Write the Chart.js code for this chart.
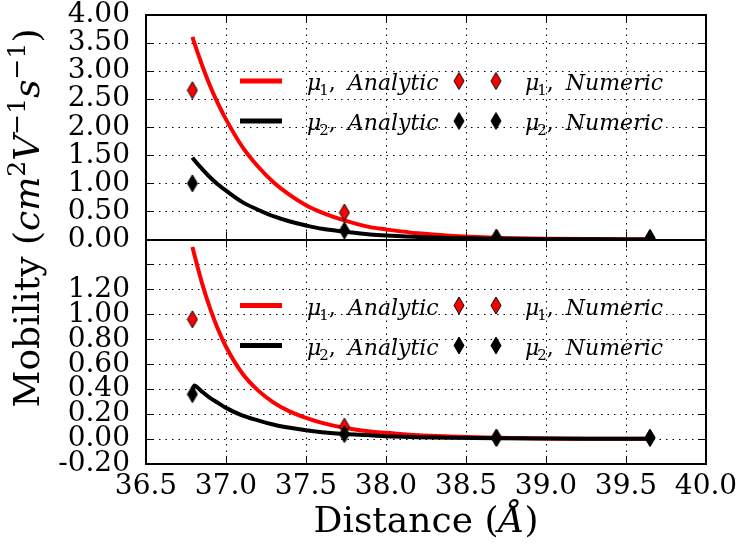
<!DOCTYPE html>
<html lang="en">
<head>
  <meta charset="UTF-8" />
  <title>Mobility vs Distance</title>
  <style>
    html, body { margin: 0; padding: 0; background: #fff; }
    #wrap { width: 739px; height: 545px; }
  </style>
</head>
<body>
  <div id="wrap"><canvas id="chart" width="739" height="545"></canvas></div>

  <script src="https://cdn.jsdelivr.net/npm/chart.js"></script>
  <script>
    // analytic curves, sampled along distance (Angstrom)
    const distance = [36.79, 36.80, 36.85, 36.90, 36.95, 37.00, 37.10, 37.20, 37.30, 37.40, 37.50,
                      37.60, 37.74, 37.90, 38.00, 38.20, 38.40, 38.69, 39.00, 39.30, 39.65];
    const mu1AnalyticTop = [3.61, 3.52, 3.11, 2.74, 2.42, 2.14, 1.66, 1.30, 1.01, 0.79, 0.61,
                            0.48, 0.34, 0.22, 0.18, 0.11, 0.065, 0.031, 0.014, 0.007, 0.003];
    const mu2AnalyticTop = [1.46, 1.42, 1.26, 1.11, 0.98, 0.87, 0.67, 0.53, 0.41, 0.32, 0.25,
                            0.19, 0.14, 0.09, 0.07, 0.045, 0.026, 0.013, 0.006, 0.003, 0.001];
    const mu1AnalyticBot = [1.54, 1.49, 1.25, 1.05, 0.88, 0.74, 0.53, 0.39, 0.29, 0.22, 0.17,
                            0.13, 0.09, 0.06, 0.05, 0.03, 0.02, 0.01, 0.005, 0.003, 0.002];
    const mu2AnalyticBot = [0.36, 0.43, 0.38, 0.33, 0.29, 0.25, 0.19, 0.15, 0.115, 0.09, 0.07,
                            0.055, 0.04, 0.03, 0.022, 0.015, 0.01, 0.006, 0.004, 0.003, 0.002];

    // numeric results
    const numDistance = [36.79, 37.74, 38.69, 39.65];
    const mu1NumericTop = [2.66, 0.48, 0.03, 0.02];
    const mu2NumericTop = [1.00, 0.16, 0.03, 0.03];
    const mu1NumericBot = [0.96, 0.10, 0.01, 0.01];
    const mu2NumericBot = [0.36, 0.04, 0.01, 0.01];

    const xTicks = [36.5, 37.0, 37.5, 38.0, 38.5, 39.0, 39.5, 40.0];

    const SERIF = '"DejaVu Serif", serif';
    const RED = '#ff0000';
    const BLACK = '#000000';

    const pts = (xs, ys) => xs.map((x, i) => ({ x: x, y: ys[i] }));

    // thin diamond marker like matplotlib's 'd'
    function thinDiamond(fill) {
      const c = document.createElement('canvas');
      c.width = 12; c.height = 19;
      const g = c.getContext('2d');
      g.beginPath();
      g.moveTo(6, 1); g.lineTo(11, 9.5); g.lineTo(6, 18); g.lineTo(1, 9.5); g.closePath();
      g.fillStyle = fill; g.fill();
      g.lineWidth = 1; g.strokeStyle = BLACK; g.stroke();
      return c;
    }
    const redMark = thinDiamond(RED);
    const blackMark = thinDiamond(BLACK);

    function lineSet(label, data, color, axis, order) {
      return { label, data, yAxisID: axis, borderColor: color, backgroundColor: color,
               borderWidth: 4, pointRadius: 0, showLine: true, order,
               cubicInterpolationMode: 'monotone' };
    }
    function markSet(label, data, img, axis, order) {
      return { label, data, yAxisID: axis, showLine: false, pointStyle: img,
               pointRadius: 6, order };
    }

    function runs(ctx, x, y, list) {
      for (const r of list) {
        ctx.font = (r.it ? 'italic ' : '') + r.size + 'px ' + SERIF;
        const px = r.at !== undefined ? x + r.at : x;
        ctx.fillText(r.t, px, y + (r.dy || 0));
        x = px + ctx.measureText(r.t).width;
      }
      return x;
    }
    function runsWidth(ctx, list) {
      let w = 0;
      for (const r of list) {
        ctx.font = (r.it ? 'italic ' : '') + r.size + 'px ' + SERIF;
        w += ctx.measureText(r.t).width;
      }
      return w;
    }

    function legendLabel(ctx, x, y, sub, word) {
      runs(ctx, x, y, [
        { t: 'μ', it: true, size: 22, at: 0 },
        { t: sub, size: 15, dy: 5, at: -2 },
        { t: ',', size: 22, at: 0 },
        { t: word, it: true, size: 22, at: 12 }
      ]);
    }

    function drawLegend(ctx, left, top) {
      const rows = [
        { y: top + 66, color: RED, mark: redMark, sub: '1' },
        { y: top + 106, color: BLACK, mark: blackMark, sub: '2' }
      ];
      for (const r of rows) {
        ctx.fillStyle = r.color;
        ctx.fillRect(left + 94, r.y - 2.5, 42, 5);
        ctx.fillStyle = BLACK;
        ctx.textBaseline = 'alphabetic';
        ctx.textAlign = 'left';
        legendLabel(ctx, left + 161, r.y + 9, r.sub, 'Analytic');
        ctx.drawImage(r.mark, left + 313 - 6, r.y - 9.5);
        ctx.drawImage(r.mark, left + 350 - 6, r.y - 9.5);
        legendLabel(ctx, left + 379, r.y + 9, r.sub, 'Numeric');
      }
    }

    function dotted(ctx, x1, y1, x2, y2) {
      ctx.save();
      ctx.setLineDash([1.5, 5]);
      ctx.lineWidth = 1;
      ctx.strokeStyle = BLACK;
      ctx.beginPath(); ctx.moveTo(x1, y1); ctx.lineTo(x2, y2); ctx.stroke();
      ctx.restore();
    }

    const noPad = s => { s.paddingTop = 0; s.paddingBottom = 0; s.paddingLeft = 0; s.paddingRight = 0; };

    const panelArt = {
      id: 'panelArt',
      beforeDatasetsDraw(chart) {
        const { ctx, chartArea: a, scales } = chart;
        for (const t of scales.x.ticks) {
          const px = Math.round(scales.x.getPixelForValue(t.value)) + 0.5;
          if (px > a.left + 2 && px < a.right - 2) dotted(ctx, px, a.top, px, a.bottom);
        }
        for (const id of ['yTop', 'yBot']) {
          const s = scales[id];
          for (const t of s.ticks) {
            const py = Math.round(s.getPixelForValue(t.value)) + 0.5;
            if (py > s.top + 2 && py < s.bottom - 2) dotted(ctx, a.left, py, a.right, py);
          }
        }
      },
      beforeDatasetDraw(chart, args) {
        const s = chart.scales[args.meta.yAxisID];
        const a = chart.chartArea;
        chart.ctx.save();
        chart.ctx.beginPath();
        chart.ctx.rect(a.left, s.top, a.right - a.left, s.bottom - s.top);
        chart.ctx.clip();
      },
      afterDatasetDraw(chart) {
        chart.ctx.restore();
      },
      afterDatasetsDraw(chart) {
        const { ctx, chartArea: a, scales } = chart;
        ctx.save();
        drawLegend(ctx, a.left, scales.yTop.top);
        drawLegend(ctx, a.left, scales.yBot.top);
        ctx.restore();
      },
      afterDraw(chart) {
        const { ctx, chartArea: a, scales } = chart;
        ctx.save();
        ctx.strokeStyle = BLACK;
        // inward tick marks
        ctx.lineWidth = 1;
        ctx.beginPath();
        for (const t of scales.x.ticks) {
          const px = Math.round(scales.x.getPixelForValue(t.value)) + 0.5;
          for (const id of ['yTop', 'yBot']) {
            const s = scales[id];
            ctx.moveTo(px, s.top); ctx.lineTo(px, s.top + 8);
            ctx.moveTo(px, s.bottom); ctx.lineTo(px, s.bottom - 8);
          }
        }
        for (const id of ['yTop', 'yBot']) {
          const s = scales[id];
          for (const t of s.ticks) {
            const py = Math.round(s.getPixelForValue(t.value)) + 0.5;
            ctx.moveTo(a.left, py); ctx.lineTo(a.left + 8, py);
            ctx.moveTo(a.right, py); ctx.lineTo(a.right - 8, py);
          }
        }
        ctx.stroke();
        // frames
        ctx.lineWidth = 2;
        ctx.strokeRect(a.left, a.top, a.right - a.left, a.bottom - a.top);
        const mid = Math.round(scales.yTop.bottom);
        ctx.beginPath(); ctx.moveTo(a.left, mid); ctx.lineTo(a.right, mid); ctx.stroke();

        // axis titles
        ctx.fillStyle = BLACK;
        ctx.textAlign = 'left';
        ctx.textBaseline = 'alphabetic';
        const xt = [
          { t: 'Distance (', size: 36 },
          { t: 'Å', it: true, size: 36 },
          { t: ')', size: 36 }
        ];
        const cx = (a.left + a.right) / 2;
        runs(ctx, cx - runsWidth(ctx, xt) / 2, 532, xt);

        const yt = [
          { t: 'Mobility (', size: 36 },
          { t: 'cm', it: true, size: 36 },
          { t: '2', size: 25, dy: -14 },
          { t: 'V', it: true, size: 36 },
          { t: '−1', size: 25, dy: -14 },
          { t: 's', it: true, size: 36 },
          { t: '−1', size: 25, dy: -14 },
          { t: ')', size: 36 }
        ];
        ctx.translate(39, 218);
        ctx.rotate(-Math.PI / 2);
        runs(ctx, -runsWidth(ctx, yt) / 2, 0, yt);
        ctx.restore();
      }
    };

    const tickFont = { family: SERIF, size: 28 };

    new Chart(document.getElementById('chart'), {
      type: 'scatter',
      data: {
        datasets: [
          markSet('μ2, Numeric', pts(numDistance, mu2NumericTop), blackMark, 'yTop', 0),
          markSet('μ1, Numeric', pts(numDistance, mu1NumericTop), redMark, 'yTop', 1),
          lineSet('μ2, Analytic', pts(distance, mu2AnalyticTop), BLACK, 'yTop', 2),
          lineSet('μ1, Analytic', pts(distance, mu1AnalyticTop), RED, 'yTop', 3),
          markSet('μ2, Numeric', pts(numDistance, mu2NumericBot), blackMark, 'yBot', 0),
          markSet('μ1, Numeric', pts(numDistance, mu1NumericBot), redMark, 'yBot', 1),
          lineSet('μ2, Analytic', pts(distance, mu2AnalyticBot), BLACK, 'yBot', 2),
          lineSet('μ1, Analytic', pts(distance, mu1AnalyticBot), RED, 'yBot', 3)
        ]
      },
      options: {
        responsive: false,
        animation: false,
        layout: { padding: { top: 15, right: 33, left: 0, bottom: 0 } },
        plugins: { legend: { display: false }, tooltip: { enabled: false } },
        scales: {
          x: {
            type: 'linear', position: 'bottom', min: 36.5, max: 40,
            afterBuildTicks: s => { s.ticks = xTicks.map(v => ({ value: v })); },
            ticks: { font: tickFont, color: BLACK, padding: 6, maxRotation: 0, autoSkip: false,
                     callback: v => v.toFixed(1) },
            grid: { display: false, drawTicks: false },
            border: { display: false },
            afterFit: s => { s.height = 81; noPad(s); }
          },
          // listed bottom first: chart.js stacks left axes in reverse order
          yBot: {
            type: 'linear', position: 'left', stack: 'mobility', stackWeight: 1,
            min: -0.2, max: 1.6,
            ticks: { stepSize: 0.2, font: tickFont, color: BLACK, padding: 16, autoSkip: false,
                     callback: v => v > 1.3 ? '' : (Math.abs(v) < 1e-9 ? 0 : v).toFixed(2) },
            grid: { display: false, drawTicks: false },
            border: { display: false },
            afterFit: s => { s.width = 146; noPad(s); }
          },
          yTop: {
            type: 'linear', position: 'left', stack: 'mobility', stackWeight: 1,
            min: 0, max: 4,
            ticks: { stepSize: 0.5, font: tickFont, color: BLACK, padding: 16, autoSkip: false,
                     callback: v => (Math.abs(v) < 1e-9 ? 0 : v).toFixed(2) },
            grid: { display: false, drawTicks: false },
            border: { display: false },
            afterFit: s => { s.width = 146; noPad(s); }
          }
        }
      },
      plugins: [panelArt]
    });
  </script>
</body>
</html>
